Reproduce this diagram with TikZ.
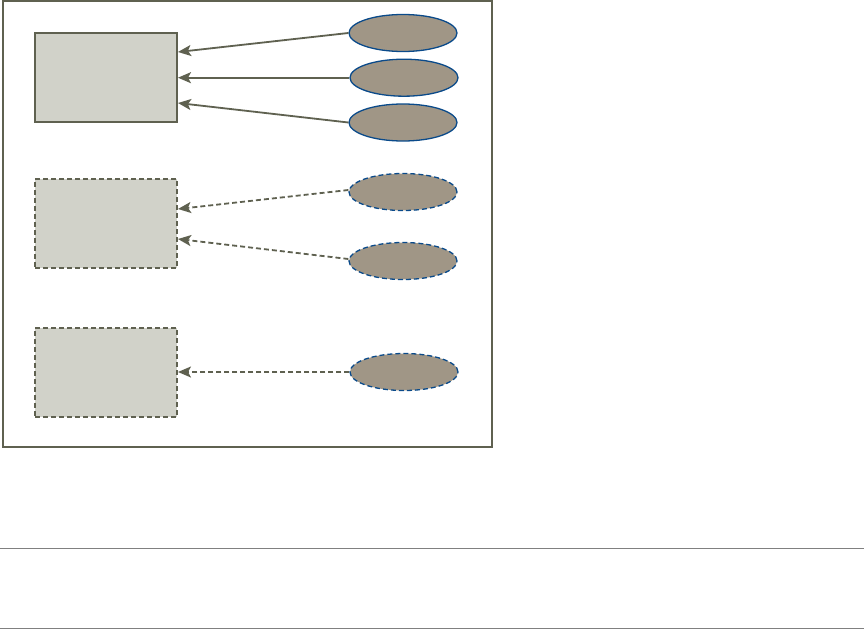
\documentclass[tikz,border=0pt]{standalone}
\usetikzlibrary{arrows.meta,shapes.geometric}
\definecolor{olive}{HTML}{5F6150}
\definecolor{boxfill}{HTML}{D1D2C9}
\definecolor{ellfill}{HTML}{A09686}
\definecolor{ellline}{HTML}{0A4A8A}
\definecolor{rule}{HTML}{808080}
\tikzset{
  solidbox/.style={draw=olive,line width=2pt,fill=boxfill,minimum width=142pt,minimum height=89pt,inner sep=0pt},
  dashbox/.style={solidbox,dashed,dash pattern=on 5pt off 3pt},
  ell/.style={ellipse,draw=ellline,line width=1.3pt,fill=ellfill,minimum width=108pt,minimum height=37pt,inner sep=0pt},
  dashell/.style={ell,dash pattern=on 5pt off 3pt},
  conn/.style={draw=olive,line width=1.8pt,-{Stealth[length=13pt,width=11pt,inset=3pt]}},
  dashconn/.style={conn,dash pattern=on 5pt off 3pt},
}
\begin{document}
\begin{tikzpicture}[x=1pt,y=-1pt]
\useasboundingbox (0,0) rectangle (864,629);
\fill[white] (0,0) rectangle (864,629);
\draw[olive,line width=2pt] (3,1) rectangle (492,447);
\node[solidbox] (b1) at (106,77.5) {};
\node[dashbox] (b2) at (106,223) {};
\node[dashbox] (b3) at (106,372) {};
\node[ell] (e1) at (403,33) {};
\node[ell] (e2) at (404,77.7) {};
\node[ell] (e3) at (403,122.5) {};
\node[dashell] (e4) at (403,192) {};
\node[dashell] (e5) at (403,261) {};
\node[dashell] (e6) at (404,372) {};
\draw[conn] (e1.west) -- ([yshift=25.5pt]b1.east);
\draw[conn] (e2.west) -- (b1.east |- e2.west);
\draw[conn] (e3.west) -- ([yshift=-25.5pt]b1.east);
\draw[dashconn] ([yshift=2pt]e4.west) -- ([yshift=14pt]b2.east);
\draw[dashconn] ([yshift=2pt]e5.west) -- ([yshift=-16pt]b2.east);
\draw[dashconn] (e6.west) -- (b3.east);
\coordinate (l1a) at (0,548.3);
\coordinate (l1b) at (864,548.3);
\coordinate (l2a) at (0,628.2);
\coordinate (l2b) at (864,628.2);
\draw[rule,line width=1pt] (l1a) -- (l1b);
\draw[rule,line width=1pt] (l2a) -- (l2b);
\end{tikzpicture}
\end{document}
